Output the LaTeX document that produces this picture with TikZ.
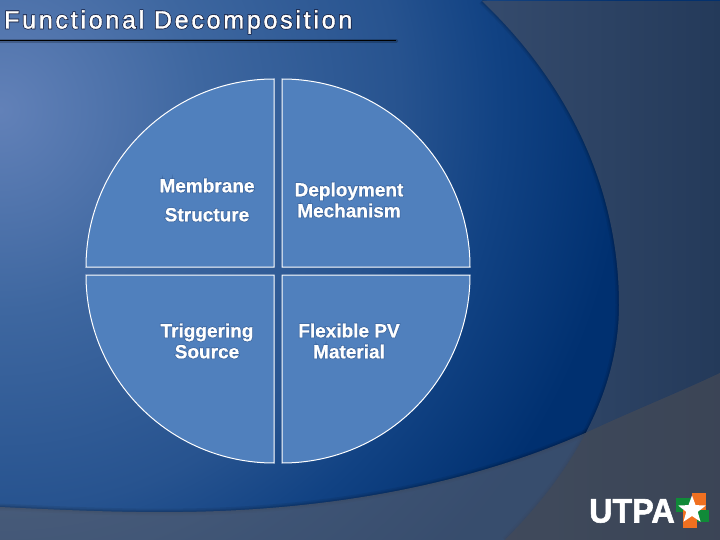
\documentclass[tikz,border=0pt]{standalone}
\usepackage{fontspec}
\usetikzlibrary{shapes.geometric}
\setmainfont{Liberation Sans}
\newfontfamily\titlefont[LetterSpace=11]{Liberation Sans}
\definecolor{panelL}{HTML}{354B6D}
\definecolor{panelR}{HTML}{243A5A}
\definecolor{bandc}{HTML}{5A5F6C}
\definecolor{piefill}{HTML}{5080BD}
\definecolor{orangec}{HTML}{F07020}
\definecolor{greenc}{HTML}{108A38}
\definecolor{bgA}{HTML}{6281B8}
\definecolor{bgB}{HTML}{3E67A0}
\definecolor{bgC}{HTML}{27538F}
\definecolor{bgD}{HTML}{114283}
\definecolor{bgE}{HTML}{003070}
\pgfdeclareradialshading{bggrad}{\pgfpoint{0bp}{0bp}}{
 color(0bp)=(bgA);
 color(6.25bp)=(bgB);
 color(12.5bp)=(bgC);
 color(15.6bp)=(bgD);
 color(19.6bp)=(bgE);
 color(50bp)=(bgE)}
\newcommand{\strokedtext}[3]{\special{pdf:code q 2 Tr #1 w #2 RG #2 rg}#3\special{pdf:code Q}}
\newcommand{\titletext}[1]{\rlap{\strokedtext{1.7}{0.07 0.10 0.22}{#1}}\strokedtext{0.35}{1 1 1}{#1}}
\newcommand{\lbltext}[1]{\rlap{\strokedtext{1.6}{0.24 0.40 0.62}{#1}}\strokedtext{0.15}{1 1 1}{#1}}
\tikzset{
  quad/.style={fill=piefill,draw=white,line width=1pt,line join=miter},
  lbl/.style={text=white,font=\fontsize{19}{21}\selectfont\bfseries,align=center,inner sep=0pt},
  softedge/.style={draw=black,draw opacity=.07,fill=none}
}
\begin{document}
\begin{tikzpicture}[x=1pt,y=-1pt]
\useasboundingbox (0,0) rectangle (720,540);
\begin{scope}
\clip (0,0) rectangle (720,540);
\fill[shading=bggrad] (0,110) circle (800pt);
% soft shadows
\foreach \w in {2,4,7}{
 \draw[softedge,line width=\w pt] (482,1) .. controls (570,85) and (619,190) .. (619,305) .. controls (619,390) and (575,470) .. (505,540);
 \draw[softedge,line width=\w pt] (0,507) .. controls (60,510) and (130,513) .. (183,512) .. controls (330,510) and (470,485) .. (592,430) .. controls (635,410) and (680,392) .. (720,373);
}
% right panel
\shade[left color=panelL,right color=panelR] (482,1) .. controls (570,85) and (619,190) .. (619,305) .. controls (619,390) and (575,470) .. (505,540) -- (720,540) -- (720,1) -- cycle;
% bottom band
\fill[bandc,fill opacity=.62] (0,507) .. controls (60,510) and (130,513) .. (183,512) .. controls (330,510) and (470,485) .. (592,430) .. controls (635,410) and (680,392) .. (720,373) -- (720,540) -- (0,540) -- cycle;
% band over panel is darker
\begin{scope}
\clip (0,507) .. controls (60,510) and (130,513) .. (183,512) .. controls (330,510) and (470,485) .. (592,430) .. controls (635,410) and (680,392) .. (720,373) -- (720,540) -- (0,540) -- cycle;
\fill[black,fill opacity=.14] (619,305) .. controls (619,390) and (575,470) .. (505,540) -- (720,540) -- (720,305) -- cycle;
\end{scope}
\end{scope}
% title rule
\draw[line width=4pt,draw=black,draw opacity=.22,line cap=round] (0,41) -- (396,41);
\draw[line width=1pt,black] (0,41) -- (396,41);
\node[anchor=west,inner sep=0pt,text=white,font=\fontsize{25}{27}\selectfont\titlefont] (title) at (4,22) {\titletext{Functional Decomposition}};
% quadrants
\draw[quad] (274,267) -- (86,267) arc[start angle=180,end angle=90,radius=188pt] -- cycle;
\draw[quad] (282,267) -- (282,79) arc[start angle=90,end angle=0,radius=188pt] -- cycle;
\draw[quad] (274,275) -- (274,463) arc[start angle=270,end angle=180,radius=188pt] -- cycle;
\draw[quad] (282,275) -- (470,275) arc[start angle=0,end angle=-90,radius=188pt] -- cycle;
\node[lbl] (membrane) at (207,200) {\lbltext{Membrane}\\[8pt]\lbltext{Structure}};
\node[lbl] (deploy) at (349,200) {\lbltext{Deployment}\\\lbltext{Mechanism}};
\node[lbl] (trigger) at (207,341) {\lbltext{Triggering}\\\lbltext{Source}};
\node[lbl] (flex) at (349,341) {\lbltext{Flexible PV}\\\lbltext{Material}};
% logo
\node[anchor=west,inner sep=0pt,text=white,font=\fontsize{34}{36}\selectfont\bfseries,xscale=.95] (utpa) at (589,511) {\strokedtext{0.6}{1 1 1}{UTPA}};
\fill[greenc] (676,498) rectangle (697,512);
\fill[greenc] (692,510) rectangle (709,522);
\fill[orangec] (692,493) rectangle (706,510);
\fill[orangec] (683,510) rectangle (697,528);
\node[star,star points=5,star point ratio=2.4,fill=white,minimum size=29pt,inner sep=0pt] (logostar) at (692,510) {};
\end{tikzpicture}
\end{document}
